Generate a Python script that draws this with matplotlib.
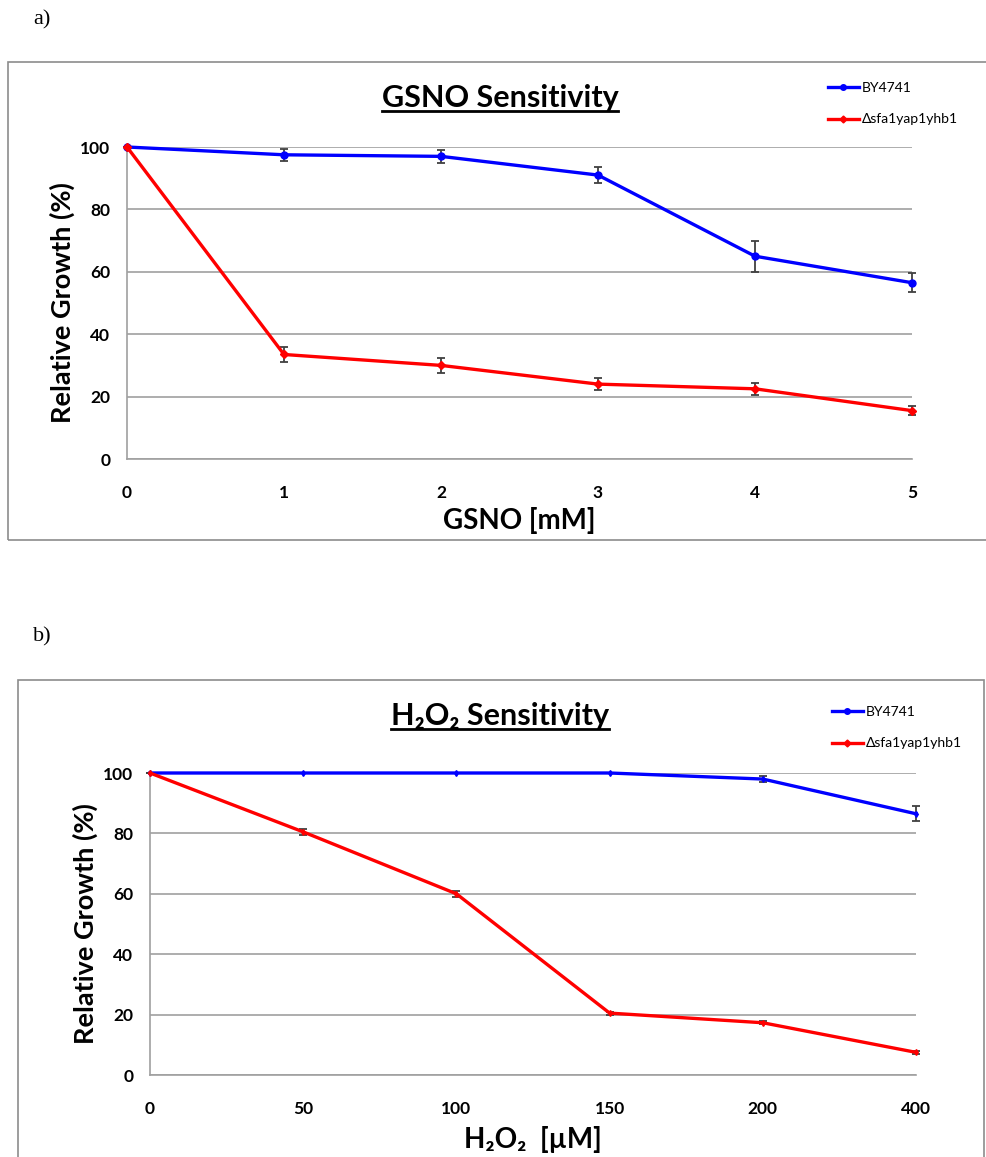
import matplotlib
matplotlib.use("Agg")
from matplotlib import pyplot as plt
from matplotlib.patches import Rectangle
from matplotlib.lines import Line2D

plt.rcParams['font.family'] = ['Lato', 'DejaVu Sans']

# panel a: GSNO
gsno = [0, 1, 2, 3, 4, 5]
by_a = [100, 97.5, 97, 91, 65, 56.5]
by_a_err = [0, 2, 2, 2.5, 5, 3]
mut_a = [100, 33.5, 30, 24, 22.5, 15.5]
mut_a_err = [0, 2.5, 2.5, 2, 2, 1.5]

# panel b: H2O2 (categorical doses)
h2o2 = ['0', '50', '100', '150', '200', '400']
by_b = [100, 100, 100, 100, 98, 86.5]
by_b_err = [0, 0, 0, 0, 1, 2.5]
mut_b = [100, 80.5, 60, 20.5, 17.3, 7.5]
mut_b_err = [0, 1, 1, 0.5, 0.5, 0.4]

W, H = 986, 1157
fig = plt.figure(figsize=(W / 100, H / 100), dpi=100)


def fx(px):
    return px / W


def fy(py):
    return 1 - py / H


# outer frames and panel letters
fig.add_artist(Rectangle((fx(8), fy(540)), fx(990 - 8), fy(62) - fy(540),
                         fill=False, ec='#8c8c8c', lw=1.2, transform=fig.transFigure))
fig.add_artist(Rectangle((fx(18), fy(1170)), fx(984 - 18), fy(680) - fy(1170),
                         fill=False, ec='#8c8c8c', lw=1.2, transform=fig.transFigure))
fig.text(fx(33), fy(20), 'a)', family='Liberation Serif', fontsize=16, va='center')
fig.text(fx(33), fy(637), 'b)', family='Liberation Serif', fontsize=16, va='center')


def style_axes(ax, xpos, xlabels, xlabel, ylpad, xlpad):
    ax.set_ylim(0, 100)
    ax.set_yticks([0, 20, 40, 60, 80, 100])
    ax.set_xticks(xpos)
    ax.set_xticklabels(xlabels)
    ax.yaxis.grid(True, color='#a0a0a0', lw=1.2)
    ax.set_axisbelow(True)
    for s in ['top', 'right']:
        ax.spines[s].set_visible(False)
    for s in ['left', 'bottom']:
        ax.spines[s].set_color('#a0a0a0')
        ax.spines[s].set_linewidth(1.2)
    ax.tick_params(length=0, labelsize=12.5)
    ax.tick_params(axis='y', pad=12)
    ax.tick_params(axis='x', pad=19)
    for t in ax.get_xticklabels() + ax.get_yticklabels():
        t.set_fontweight('bold')
    ax.set_ylabel('Relative Growth (%)', fontsize=19.5, fontweight='bold', labelpad=ylpad)
    ax.set_xlabel(xlabel, fontsize=20, fontweight='bold', labelpad=xlpad)


def add_legend(ax, x_px, y_px):
    hs = [Line2D([], [], color='blue', lw=2.4, marker='o', ms=4),
          Line2D([], [], color='red', lw=2.4, marker='D', ms=3.5)]
    ax.legend(hs, ['BY4741', '\u0394sfa1yap1yhb1'], loc='upper left',
              bbox_to_anchor=(fx(x_px), fy(y_px)), bbox_transform=fig.transFigure,
              frameon=False, fontsize=10, handlelength=2.2, handletextpad=0.2,
              labelspacing=1.4, borderaxespad=0, borderpad=0)


def underlined_title(text, x_px, y_px):
    t = fig.text(fx(x_px), fy(y_px), text, fontsize=22, fontweight='bold',
                 ha='center', va='center')
    fig.canvas.draw()
    bb = t.get_window_extent().transformed(fig.transFigure.inverted())
    ybar = fy(y_px + 13)
    fig.add_artist(Line2D([bb.x0, bb.x1], [ybar, ybar], color='black', lw=2,
                          transform=fig.transFigure))


# ---- panel a
ax1 = fig.add_axes([fx(127), fy(459), fx(912 - 127), fy(147) - fy(459)])
ax1.set_xlim(0, 5)
ax1.errorbar(gsno, by_a, yerr=by_a_err, color='blue', lw=2.4, marker='o', ms=5,
             ecolor='#404040', elinewidth=1.3, capsize=3, capthick=1.3,
             clip_on=False, zorder=3)
ax1.errorbar(gsno, mut_a, yerr=mut_a_err, color='red', lw=2.4, marker='D', ms=4.5,
             ecolor='#404040', elinewidth=1.3, capsize=3, capthick=1.3,
             clip_on=False, zorder=3)
style_axes(ax1, gsno, [str(v) for v in gsno], 'GSNO [mM]', 4, 4)
add_legend(ax1, 828, 82)

# ---- panel b
xb = list(range(len(h2o2)))
ax2 = fig.add_axes([fx(150), fy(1075), fx(916 - 150), fy(773) - fy(1075)])
ax2.set_xlim(0, 5)
ax2.errorbar(xb, by_b, yerr=by_b_err, color='blue', lw=2.4, marker='d', ms=3,
             ecolor='#404040', elinewidth=1.3, capsize=3, capthick=1.3,
             clip_on=False, zorder=3)
ax2.errorbar(xb, mut_b, yerr=mut_b_err, color='red', lw=2.4, marker='d', ms=3,
             ecolor='#404040', elinewidth=1.3, capsize=3, capthick=1.3,
             clip_on=False, zorder=3)
style_axes(ax2, xb, h2o2, 'H\u2082O\u2082  [\u00b5M]', 4, 6)
add_legend(ax2, 832, 706)

underlined_title('GSNO Sensitivity', 500, 98)
underlined_title('H\u2082O\u2082 Sensitivity', 500, 716)

fig.savefig('out.png', dpi=100)
